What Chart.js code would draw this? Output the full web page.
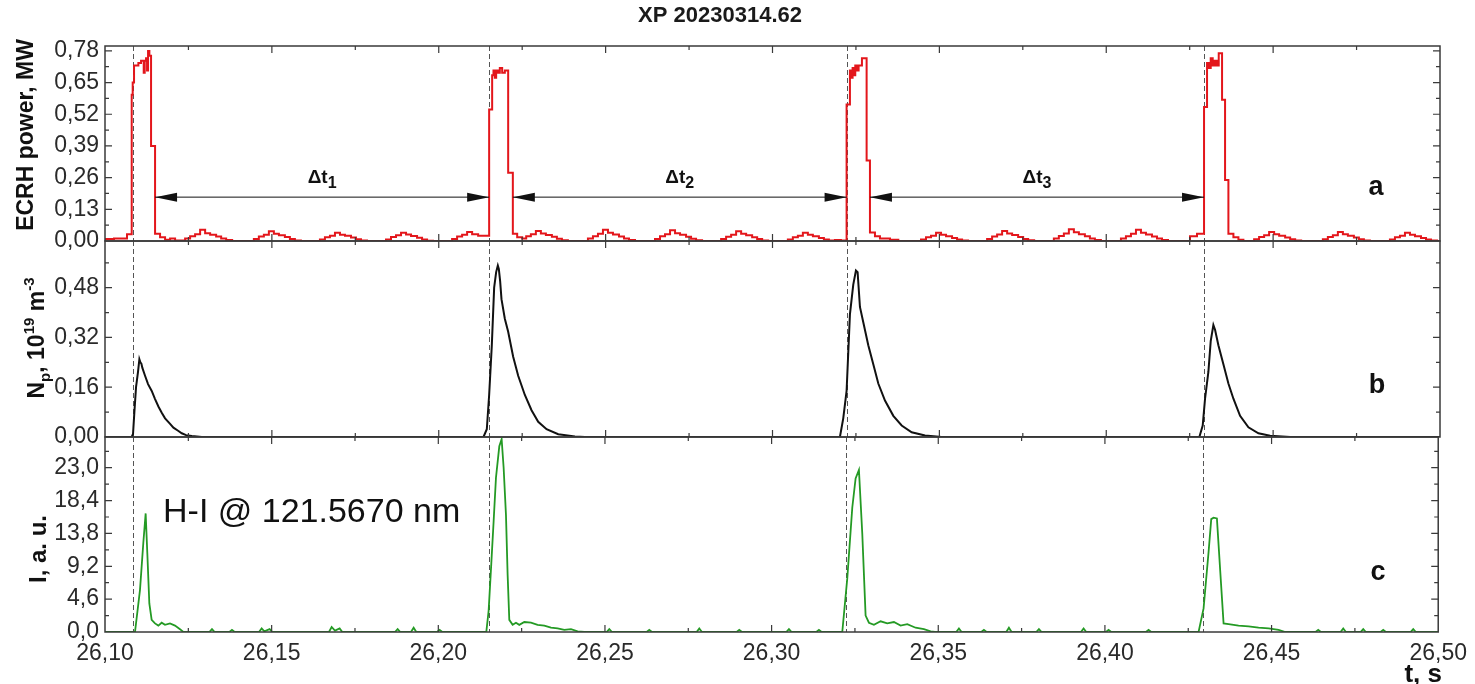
<!DOCTYPE html>
<html>
<head>
<meta charset="utf-8">
<title>XP 20230314.62</title>
<script src="https://cdn.jsdelivr.net/npm/chart.js@4.4.1/dist/chart.umd.min.js"></script>
<style>
  html, body { margin: 0; padding: 0; background: #fff; }
  #wrap { position: relative; width: 1475px; height: 684px; }
  #wrap canvas { position: absolute; left: 0; top: 0; }
</style>
</head>
<body>
<div id="wrap">
  <canvas id="panelA" width="1475" height="684"></canvas>
  <canvas id="panelB" width="1475" height="684"></canvas>
  <canvas id="panelC" width="1475" height="684"></canvas>
</div>
<script>
// Three stacked panels sharing the time axis - XP 20230314.62

// ---- time axis ----
const timeMin = 26.10;
const timeMax = 26.50;
const timeTicks = [26.10, 26.15, 26.20, 26.25, 26.30, 26.35, 26.40, 26.45, 26.50];

// ---- panel a: ECRH power, MW (stepped trace) ----
const ecrhTime = [
  26.1000, 26.1027, 26.1066,
  26.1080, 26.1083, 26.1087, 26.1100, 26.1108, 26.1116, 26.1119, 26.1123, 26.1126, 26.1129, 26.1133, 26.1138,
  26.1150, 26.1165, 26.1180, 26.1195, 26.1210,
  26.1240, 26.1255, 26.1270, 26.1285, 26.1300, 26.1315, 26.1333, 26.1348, 26.1363, 26.1381,
  26.1446, 26.1461, 26.1476, 26.1491, 26.1506, 26.1521, 26.1539, 26.1554, 26.1569, 26.1587,
  26.1644, 26.1659, 26.1674, 26.1689, 26.1704, 26.1719, 26.1737, 26.1752, 26.1767, 26.1785,
  26.1842, 26.1857, 26.1872, 26.1887, 26.1902, 26.1917, 26.1935, 26.1950, 26.1965, 26.1983,
  26.2040, 26.2055, 26.2070, 26.2085, 26.2100, 26.2118,
  26.2151, 26.2160, 26.2164, 26.2168, 26.2172, 26.2178, 26.2183, 26.2190, 26.2198, 26.2208,
  26.2222, 26.2235, 26.2250,
  26.2262, 26.2276, 26.2291, 26.2306, 26.2321, 26.2339, 26.2354, 26.2369, 26.2387,
  26.2447, 26.2462, 26.2477, 26.2492, 26.2507, 26.2522, 26.2540, 26.2555, 26.2570, 26.2588,
  26.2648, 26.2663, 26.2678, 26.2693, 26.2708, 26.2723, 26.2741, 26.2756, 26.2771, 26.2789,
  26.2846, 26.2861, 26.2876, 26.2891, 26.2906, 26.2921, 26.2939, 26.2954, 26.2969, 26.2987,
  26.3046, 26.3061, 26.3076, 26.3091, 26.3106, 26.3121, 26.3139, 26.3154, 26.3169, 26.3187, 26.3205,
  26.3222, 26.3232, 26.3236, 26.3240, 26.3244, 26.3248, 26.3252, 26.3258, 26.3268, 26.3282,
  26.3292, 26.3307, 26.3322, 26.3352, 26.3377,
  26.3445, 26.3460, 26.3475, 26.3490, 26.3505, 26.3520, 26.3538, 26.3553, 26.3568, 26.3586,
  26.3643, 26.3658, 26.3673, 26.3688, 26.3703, 26.3718, 26.3736, 26.3751, 26.3766, 26.3784,
  26.3843, 26.3858, 26.3873, 26.3888, 26.3903, 26.3918, 26.3936, 26.3951, 26.3966, 26.3984,
  26.4044, 26.4059, 26.4074, 26.4089, 26.4104, 26.4119, 26.4137, 26.4152, 26.4167, 26.4185,
  26.4251, 26.4272,
  26.4293, 26.4302, 26.4308, 26.4313, 26.4319, 26.4325, 26.4331, 26.4337, 26.4347, 26.4356,
  26.4366, 26.4381, 26.4396, 26.4411,
  26.4443, 26.4458, 26.4473, 26.4488, 26.4503, 26.4518, 26.4536, 26.4551, 26.4566, 26.4584,
  26.4649, 26.4664, 26.4679, 26.4694, 26.4709, 26.4724, 26.4742, 26.4757, 26.4772, 26.4790,
  26.4850, 26.4865, 26.4880, 26.4895, 26.4910, 26.4925, 26.4943, 26.4958, 26.4973, 26.4991,
  26.5000
];
const ecrhPower = [
  0.008, 0.010, 0.028,
  0.600, 0.650, 0.720, 0.730, 0.740, 0.690, 0.740, 0.750, 0.700, 0.780, 0.760, 0.390,
  0.030, 0.015, 0.005, 0.010, 0.002,
  0.010, 0.020, 0.028, 0.046, 0.032, 0.026, 0.018, 0.010, 0.004, 0.000,
  0.008, 0.018, 0.026, 0.040, 0.030, 0.024, 0.016, 0.008, 0.002, 0.000,
  0.006, 0.015, 0.022, 0.034, 0.026, 0.022, 0.014, 0.007, 0.002, 0.000,
  0.006, 0.016, 0.024, 0.034, 0.027, 0.021, 0.013, 0.006, 0.001, 0.000,
  0.008, 0.018, 0.026, 0.037, 0.028, 0.022,
  0.540, 0.680, 0.700, 0.670, 0.700, 0.690, 0.710, 0.690, 0.700, 0.280,
  0.030, 0.015, 0.010,
  0.020, 0.028, 0.041, 0.031, 0.025, 0.017, 0.009, 0.003, 0.000,
  0.010, 0.020, 0.030, 0.046, 0.034, 0.027, 0.018, 0.010, 0.004, 0.000,
  0.008, 0.019, 0.028, 0.044, 0.032, 0.026, 0.017, 0.009, 0.003, 0.000,
  0.008, 0.017, 0.026, 0.040, 0.030, 0.024, 0.015, 0.008, 0.002, 0.000,
  0.006, 0.015, 0.022, 0.034, 0.026, 0.020, 0.012, 0.006, 0.002, 0.004, 0.002,
  0.560, 0.700, 0.670, 0.710, 0.680, 0.720, 0.700, 0.720, 0.750, 0.330,
  0.035, 0.020, 0.010, 0.005, 0.000,
  0.006, 0.015, 0.022, 0.034, 0.026, 0.020, 0.012, 0.006, 0.002, 0.000,
  0.008, 0.018, 0.027, 0.041, 0.031, 0.025, 0.016, 0.008, 0.003, 0.000,
  0.010, 0.021, 0.031, 0.048, 0.036, 0.028, 0.019, 0.010, 0.004, 0.000,
  0.010, 0.020, 0.030, 0.046, 0.034, 0.027, 0.018, 0.010, 0.004, 0.000,
  0.020, 0.030,
  0.550, 0.730, 0.710, 0.750, 0.720, 0.740, 0.720, 0.770, 0.580, 0.250,
  0.030, 0.015, 0.005, 0.000,
  0.007, 0.016, 0.024, 0.037, 0.028, 0.022, 0.014, 0.007, 0.002, 0.000,
  0.007, 0.016, 0.024, 0.037, 0.028, 0.022, 0.014, 0.007, 0.002, 0.000,
  0.006, 0.015, 0.022, 0.034, 0.026, 0.020, 0.012, 0.006, 0.002, 0.000,
  0.000
];
const ecrhTicks = [0, 0.13, 0.26, 0.39, 0.52, 0.65, 0.78];

// ---- panel b: Np, 10^19 m^-3 ----
const densTime = [
  26.1000, 26.1080, 26.1084, 26.1088, 26.1093, 26.1099, 26.1103, 26.1106, 26.1109, 26.1112,
  26.1120, 26.1129, 26.1140, 26.1150, 26.1160, 26.1170, 26.1180, 26.1195, 26.1205, 26.1219,
  26.1230, 26.1243, 26.1260, 26.1290,
  26.2134, 26.2144, 26.2151, 26.2159, 26.2166, 26.2172, 26.2177, 26.2180, 26.2184, 26.2188,
  26.2198, 26.2208, 26.2223, 26.2238, 26.2258, 26.2278, 26.2298, 26.2323, 26.2358, 26.2408, 26.2438,
  26.3202, 26.3212, 26.3222, 26.3232, 26.3242, 26.3250, 26.3255, 26.3262, 26.3272, 26.3287,
  26.3302, 26.3317, 26.3337, 26.3362, 26.3387, 26.3417, 26.3457, 26.3507,
  26.4279, 26.4289, 26.4296, 26.4306, 26.4313, 26.4321, 26.4326, 26.4336, 26.4351, 26.4366,
  26.4381, 26.4401, 26.4426, 26.4456, 26.4491, 26.4551, 26.5000
];
const densValue = [
  0.000, 0.000, 0.010, 0.080, 0.160, 0.210, 0.250, 0.240, 0.236, 0.222,
  0.197, 0.170, 0.148, 0.122, 0.098, 0.078, 0.060, 0.042, 0.030, 0.020,
  0.012, 0.006, 0.003, 0.000,
  0.000, 0.025, 0.135, 0.295, 0.480, 0.530, 0.551, 0.540, 0.500, 0.443,
  0.380, 0.338, 0.258, 0.197, 0.135, 0.086, 0.049, 0.025, 0.009, 0.002, 0.000,
  0.000, 0.060, 0.148, 0.394, 0.490, 0.535, 0.530, 0.418, 0.369, 0.295,
  0.234, 0.172, 0.117, 0.068, 0.037, 0.015, 0.005, 0.000,
  0.000, 0.037, 0.123, 0.209, 0.308, 0.360, 0.345, 0.295, 0.234, 0.172,
  0.123, 0.068, 0.031, 0.012, 0.004, 0.000, 0.000
];
const densTicks = [0, 0.16, 0.32, 0.48];

// ---- panel c: H-I line intensity, a. u. ----
const lyaTime = [
  26.1000, 26.1090, 26.1105, 26.1115, 26.1122, 26.1127, 26.1133, 26.1140, 26.1150, 26.1160,
  26.1170, 26.1180, 26.1195, 26.1210, 26.1225, 26.1235,
  26.1313, 26.1321, 26.1329, 26.1373, 26.1381, 26.1389, 26.1462, 26.1470, 26.1478, 26.1494, 26.1502,
  26.1672, 26.1680, 26.1690, 26.1704, 26.1712, 26.1870, 26.1878, 26.1886, 26.1918, 26.1926, 26.1934,
  26.1996, 26.2004, 26.2012,
  26.2144, 26.2151, 26.2159, 26.2166, 26.2173, 26.2183, 26.2190, 26.2196, 26.2203, 26.2208,
  26.2213, 26.2223, 26.2233, 26.2243, 26.2258, 26.2278, 26.2298, 26.2318, 26.2338, 26.2358,
  26.2378, 26.2398, 26.2418, 26.2438,
  26.2505, 26.2513, 26.2521, 26.2625, 26.2633, 26.2641, 26.2775, 26.2783, 26.2791,
  26.2895, 26.2903, 26.2911, 26.3044, 26.3052, 26.3060, 26.3134, 26.3142, 26.3150,
  26.3212, 26.3227, 26.3242, 26.3252, 26.3262, 26.3272, 26.3282, 26.3292, 26.3307, 26.3327,
  26.3347, 26.3367, 26.3387, 26.3407, 26.3432, 26.3457, 26.3477, 26.3490,
  26.3554, 26.3562, 26.3570, 26.3629, 26.3637, 26.3645, 26.3704, 26.3712, 26.3720,
  26.3794, 26.3802, 26.3810, 26.3928, 26.3936, 26.3944, 26.4003, 26.4011, 26.4019,
  26.4123, 26.4131, 26.4139,
  26.4281, 26.4296, 26.4311, 26.4319, 26.4326, 26.4336, 26.4346, 26.4356, 26.4371, 26.4401,
  26.4431, 26.4461, 26.4491, 26.4521, 26.4541,
  26.4632, 26.4640, 26.4648, 26.4707, 26.4715, 26.4723, 26.4767, 26.4775, 26.4783,
  26.4827, 26.4835, 26.4843, 26.4917, 26.4925, 26.4933, 26.5000
];
const lyaValue = [
  0.0, 0.0, 5.9, 12.5, 16.6, 11.0, 4.0, 1.7, 1.2, 0.9,
  1.3, 1.0, 1.2, 0.9, 0.4, 0.0,
  0.0, 0.4, 0.0, 0.0, 0.3, 0.0, 0.0, 0.5, 0.1, 0.4, 0.0,
  0.0, 0.7, 0.2, 0.5, 0.0, 0.0, 0.4, 0.0, 0.0, 0.6, 0.0,
  0.0, 0.3, 0.0,
  0.0, 3.0, 9.6, 15.5, 21.6, 26.0, 27.0, 23.0, 16.4, 8.0,
  1.7, 1.0, 1.3, 1.0, 1.4, 1.3, 1.0, 0.9, 0.6, 0.5,
  0.3, 0.4, 0.1, 0.0,
  0.0, 0.4, 0.0, 0.0, 0.3, 0.0, 0.0, 0.5, 0.0,
  0.0, 0.3, 0.0, 0.0, 0.4, 0.0, 0.0, 0.3, 0.0,
  0.0, 7.5, 17.4, 21.5, 22.7, 13.8, 2.3, 1.3, 1.0, 1.5,
  1.2, 1.4, 0.9, 1.1, 0.6, 0.4, 0.1, 0.0,
  0.0, 0.5, 0.0, 0.0, 0.3, 0.0, 0.0, 0.6, 0.0,
  0.0, 0.4, 0.0, 0.0, 0.5, 0.0, 0.0, 0.3, 0.0,
  0.0, 0.3, 0.0,
  0.0, 3.3, 11.2, 15.8, 16.0, 15.9, 8.5, 1.2, 1.1, 0.9,
  0.8, 0.6, 0.5, 0.3, 0.0,
  0.0, 0.3, 0.0, 0.0, 0.5, 0.0, 0.0, 0.4, 0.0,
  0.0, 0.3, 0.0, 0.0, 0.4, 0.0, 0.0
];
const lyaTicks = [0, 4.6, 9.2, 13.8, 18.4, 23.0];

// ---- ECRH pulse starts (dashed markers) and the intervals between pulses ----
const pulseStarts = [26.1084, 26.2151, 26.3223, 26.4293];
const gapStart = [26.1150, 26.2222, 26.3292];
const gapEnd = [26.2151, 26.3222, 26.4293];
const gapNames = ['1', '2', '3'];
const gapArrowLevel = 0.182;
const gapLabelLevel = 0.238;

// ---- page geometry ----
const W = 1475, H = 684;
const PLOT_LEFT = 105, PLOT_RIGHT = 1440;
const FONT = '"Liberation Sans", Arial, Helvetica, sans-serif';
Chart.defaults.font.family = FONT;

function toPoints(ts, vs) {
  return ts.map((t, i) => ({ x: t, y: vs[i] }));
}

// minor tick positions half way between majors
function midpoints(list, max) {
  const out = [];
  for (let i = 0; i < list.length - 1; i++) out.push((list[i] + list[i + 1]) / 2);
  const step = list[1] - list[0];
  const extra = list[list.length - 1] + step / 2;
  if (extra < max - 1e-9) out.push(extra);
  return out;
}

function drawRich(ctx, parts, x, y, align) {
  let total = 0;
  parts.forEach(p => {
    ctx.font = `${p.weight || 'bold'} ${p.size}px ${FONT}`;
    p.w = ctx.measureText(p.text).width;
    total += p.w;
  });
  let cx = align === 'center' ? x - total / 2 : (align === 'right' ? x - total : x);
  ctx.textAlign = 'left';
  ctx.textBaseline = 'alphabetic';
  parts.forEach(p => {
    ctx.font = `${p.weight || 'bold'} ${p.size}px ${FONT}`;
    ctx.fillText(p.text, cx, y + (p.dy || 0));
    cx += p.w;
  });
}

function drawRotated(ctx, parts, baseX, centerY) {
  ctx.save();
  ctx.translate(baseX, centerY);
  ctx.rotate(-Math.PI / 2);
  drawRich(ctx, parts, 0, 0, 'center');
  ctx.restore();
}

// frame, inward ticks and dashed pulse markers for every panel
const framePlugin = {
  id: 'frame',
  beforeDatasetsDraw(chart) {
    const { ctx, chartArea: a, scales: { x } } = chart;
    ctx.save();
    ctx.strokeStyle = '#555';
    ctx.lineWidth = 1;
    ctx.setLineDash([5, 3]);
    pulseStarts.forEach(t => {
      const px = Math.round(x.getPixelForValue(t)) + 0.5;
      ctx.beginPath();
      ctx.moveTo(px, a.top);
      ctx.lineTo(px, a.bottom);
      ctx.stroke();
    });
    ctx.restore();
  },
  afterDatasetsDraw(chart) {
    const { ctx, chartArea: a, scales: { x, y } } = chart;
    ctx.save();
    ctx.strokeStyle = '#3a3a3a';
    ctx.lineWidth = 1.5;
    ctx.strokeRect(a.left, a.top, a.right - a.left, a.bottom - a.top);

    const yMajor = y.ticks.map(t => t.value);
    const yMinor = midpoints(yMajor, y.max);
    const xMinor = midpoints(timeTicks, timeMax);
    ctx.lineWidth = 1.2;
    ctx.beginPath();
    const tickX = (v, len) => {
      const px = x.getPixelForValue(v);
      if (px <= a.left + 1 || px >= a.right - 1) return;
      ctx.moveTo(px, a.bottom); ctx.lineTo(px, a.bottom - len);
      ctx.moveTo(px, a.top); ctx.lineTo(px, a.top + len);
    };
    const tickY = (v, len) => {
      const py = y.getPixelForValue(v);
      if (py <= a.top + 1 || py >= a.bottom - 1) return;
      ctx.moveTo(a.left, py); ctx.lineTo(a.left + len, py);
      ctx.moveTo(a.right, py); ctx.lineTo(a.right - len, py);
    };
    timeTicks.forEach(v => tickX(v, 7));
    xMinor.forEach(v => tickX(v, 4));
    yMajor.forEach(v => tickY(v, 7));
    yMinor.forEach(v => tickY(v, 4));
    ctx.stroke();
    ctx.restore();
  }
};

function yScale(max, ticks, decimals) {
  return {
    min: 0,
    max: max,
    afterFit(scale) { scale.width = PLOT_LEFT; },
    afterBuildTicks(scale) { scale.ticks = ticks.map(v => ({ value: v })); },
    grid: { display: false, drawTicks: false },
    border: { display: false },
    ticks: {
      autoSkip: false,
      padding: 6,
      color: '#2a2a2a',
      font: { size: 23 },
      callback: v => Number(v).toFixed(decimals).replace('.', ',')
    }
  };
}

function makePanel(id, cfg) {
  return new Chart(document.getElementById(id), {
    type: 'line',
    data: {
      datasets: [{
        data: cfg.points,
        borderColor: cfg.color,
        borderWidth: cfg.lineWidth,
        stepped: cfg.stepped || false,
        pointRadius: 0,
        tension: 0,
        fill: false
      }]
    },
    options: {
      responsive: false,
      animation: false,
      events: [],
      layout: { padding: { left: 0, right: W - PLOT_RIGHT, top: cfg.padTop, bottom: cfg.padBottom } },
      plugins: {
        legend: { display: false },
        tooltip: { enabled: false },
        title: cfg.title || { display: false }
      },
      scales: {
        x: cfg.xScale || { type: 'linear', min: timeMin, max: timeMax, display: false },
        y: cfg.yScale
      }
    },
    plugins: [framePlugin, cfg.extra]
  });
}

// panel a: arrows, labels
const panelAText = {
  id: 'panelAText',
  afterDraw(chart) {
    const { ctx, scales: { x, y } } = chart;
    ctx.save();
    ctx.fillStyle = '#111';
    ctx.strokeStyle = '#111';
    const ya = y.getPixelForValue(gapArrowLevel);
    const yl = y.getPixelForValue(gapLabelLevel);
    gapStart.forEach((t0, i) => {
      const x1 = x.getPixelForValue(t0);
      const x2 = x.getPixelForValue(gapEnd[i]);
      ctx.lineWidth = 1;
      ctx.beginPath();
      ctx.moveTo(x1, ya + 0.5); ctx.lineTo(x2, ya + 0.5);
      ctx.stroke();
      ctx.beginPath();
      ctx.moveTo(x1, ya + 0.5); ctx.lineTo(x1 + 22, ya - 4); ctx.lineTo(x1 + 22, ya + 5); ctx.closePath();
      ctx.moveTo(x2, ya + 0.5); ctx.lineTo(x2 - 22, ya - 4); ctx.lineTo(x2 - 22, ya + 5); ctx.closePath();
      ctx.fill();
      drawRich(ctx, [
        { text: 'Δt', size: 19 },
        { text: gapNames[i], size: 16, dy: 5 }
      ], (x1 + x2) / 2, yl, 'center');
    });
    ctx.fillStyle = '#111';
    drawRich(ctx, [{ text: 'a', size: 27 }], 1376, 195, 'center');
    drawRotated(ctx, [{ text: 'ECRH power, MW', size: 23 }], 33, 135);
    ctx.restore();
  }
};

// panel b: label and axis title with sub/superscripts
const panelBText = {
  id: 'panelBText',
  afterDraw(chart) {
    const { ctx } = chart;
    ctx.save();
    ctx.fillStyle = '#111';
    drawRich(ctx, [{ text: 'b', size: 27 }], 1377, 393, 'center');
    drawRotated(ctx, [
      { text: 'N', size: 23 },
      { text: 'p', size: 15, dy: 6 },
      { text: ', 10', size: 23 },
      { text: '19', size: 15, dy: -10 },
      { text: ' m', size: 23 },
      { text: '-3', size: 15, dy: -10 }
    ], 44, 338);
    ctx.restore();
  }
};

// panel c: line name, label, axis titles
const panelCText = {
  id: 'panelCText',
  afterDraw(chart) {
    const { ctx } = chart;
    ctx.save();
    ctx.fillStyle = '#111';
    drawRich(ctx, [{ text: 'H-I @ 121.5670 nm', size: 34, weight: 'normal' }], 163, 522, 'left');
    drawRich(ctx, [{ text: 'c', size: 27 }], 1378, 580, 'center');
    drawRich(ctx, [{ text: 't, s', size: 26 }], 1442, 682, 'right');
    drawRotated(ctx, [{ text: 'I, a. u.', size: 24 }], 46, 549);
    ctx.restore();
  }
};

makePanel('panelA', {
  points: toPoints(ecrhTime, ecrhPower),
  color: '#e3161b',
  lineWidth: 2,
  stepped: true,
  padTop: 0,
  padBottom: H - 241,
  title: {
    display: true,
    text: 'XP 20230314.62',
    color: '#1a1a1a',
    font: { size: 22, weight: 'bold', lineHeight: 1.2 },
    padding: { top: 3, bottom: 16.6 }
  },
  yScale: yScale(0.80, ecrhTicks, 2),
  extra: panelAText
});

makePanel('panelB', {
  points: toPoints(densTime, densValue),
  color: '#111111',
  lineWidth: 2,
  padTop: 241,
  padBottom: H - 437,
  yScale: yScale(0.63, densTicks, 2),
  extra: panelBText
});

makePanel('panelC', {
  points: toPoints(lyaTime, lyaValue),
  color: '#249a24',
  lineWidth: 1.8,
  padTop: 437,
  padBottom: 0,
  xScale: {
    type: 'linear',
    min: timeMin,
    max: timeMax,
    afterFit(scale) { scale.height = H - 632; },
    afterBuildTicks(scale) { scale.ticks = timeTicks.map(v => ({ value: v })); },
    grid: { display: false, drawTicks: false },
    border: { display: false },
    ticks: {
      autoSkip: false,
      maxRotation: 0,
      padding: 8,
      color: '#2a2a2a',
      font: { size: 23 },
      callback: v => Number(v).toFixed(2).replace('.', ',')
    }
  },
  yScale: yScale(27.3, lyaTicks, 1),
  extra: panelCText
});
</script>
</body>
</html>
